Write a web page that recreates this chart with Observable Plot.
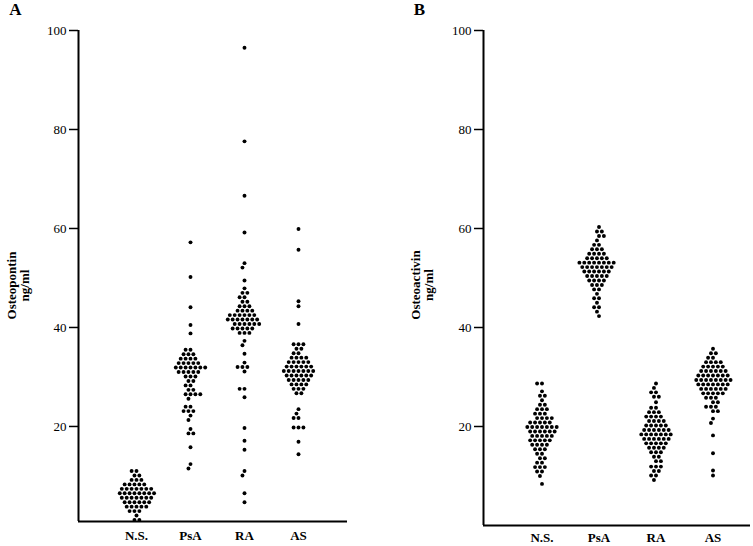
<!DOCTYPE html>
<html><head><meta charset="utf-8">
<script src="https://cdn.jsdelivr.net/npm/d3@7"></script>
<script src="https://cdn.jsdelivr.net/npm/@observablehq/plot@0.6"></script>
<style>
html,body{margin:0;padding:0;background:#fff;}
#chart{position:relative;width:753px;height:546px;overflow:hidden;background:#fff;}
#chart svg{position:absolute;left:0;top:0;}
#chart svg text{font-family:"Liberation Serif","Times New Roman",serif;}
#chart svg.dots text{font-weight:bold;}
#chart [aria-label="y-axis tick"]{stroke-width:1.5;}
</style></head><body><div id="chart"></div>
<script>
const groups = ["N.S.", "PsA", "RA", "AS"];
const yTicks = [20, 40, 60, 80, 100];
const panelTitles = ["A", "B"];
const yLabels = ["Osteopontin\nng/ml", "Osteoactivin\nng/ml"];

// Panel A: Osteopontin (ng/ml)
const osteopontinNS = [11.0, 11.0, 10.1, 10.1, 9.2, 9.2, 9.2, 8.3, 8.3, 8.3, 8.3, 8.3,
  7.4, 7.4, 7.4, 7.4, 7.4, 7.4, 7.4, 6.5, 6.5, 6.5, 6.5, 6.5, 6.5, 6.5, 6.5,
  5.6, 5.6, 5.6, 5.6, 5.6, 5.6, 5.6, 4.7, 4.7, 4.7, 4.7, 4.7, 4.7,
  3.8, 3.8, 3.8, 3.8, 3.8, 2.9, 2.9, 2.9, 2.0, 1.1, 1.1];
const osteopontinPsA = [57.2, 50.2, 44.1, 40.5, 38.8, 35.5, 35.5, 34.6, 34.6, 34.6,
  33.7, 33.7, 33.7, 33.7, 32.8, 32.8, 32.8, 32.8, 32.8,
  31.9, 31.9, 31.9, 31.9, 31.9, 31.9, 31.9, 31.0, 31.0, 31.0, 31.0, 31.0,
  30.1, 30.1, 30.1, 29.2, 29.2, 28.3, 28.3, 27.4, 27.4, 26.5, 26.5, 26.5, 26.5, 25.6,
  24.0, 24.0, 23.1, 23.1, 23.1, 22.2, 21.3, 19.5, 18.6, 18.6, 15.8, 12.4, 11.5];
const osteopontinRA = [96.5, 77.6, 66.6, 59.2, 53.0, 52.1, 49.5, 47.9, 47.0, 47.0,
  46.1, 46.1, 45.2, 45.2, 44.3, 44.3, 44.3, 43.4, 43.4, 43.4, 43.4,
  42.5, 42.5, 42.5, 42.5, 42.5, 42.5, 41.6, 41.6, 41.6, 41.6, 41.6, 41.6, 41.6,
  40.7, 40.7, 40.7, 40.7, 40.7, 40.7, 39.8, 39.8, 39.8, 39.8, 39.8, 38.9, 38.9, 38.9,
  37.3, 36.4, 34.7, 32.9, 32.0, 32.0, 32.0, 31.1, 27.6, 27.6, 25.9, 19.7, 17.1, 15.3,
  11.0, 10.1, 6.5, 4.7];
const osteopontinAS = [59.9, 55.7, 45.3, 44.3, 40.7, 36.6, 36.6, 36.6, 35.7, 35.7,
  34.8, 34.8, 33.9, 33.9, 33.9, 33.9, 33.0, 33.0, 33.0, 33.0, 33.0,
  32.1, 32.1, 32.1, 32.1, 32.1, 32.1, 31.2, 31.2, 31.2, 31.2, 31.2, 31.2, 31.2,
  30.3, 30.3, 30.3, 30.3, 30.3, 30.3, 29.4, 29.4, 29.4, 29.4, 29.4,
  28.5, 28.5, 28.5, 28.5, 27.6, 27.6, 27.6, 26.7, 26.7,
  23.5, 22.6, 21.7, 21.7, 19.8, 19.8, 19.8, 16.9, 14.4];

// Panel B: Osteoactivin (ng/ml)
const osteoactivinNS = [28.7, 28.7, 27.1, 26.2, 26.2, 25.3, 24.4, 24.4, 23.5, 23.5, 23.5,
  22.6, 22.6, 22.6, 21.7, 21.7, 21.7, 21.7, 20.8, 20.8, 20.8, 20.8, 20.8,
  19.9, 19.9, 19.9, 19.9, 19.9, 19.9, 19.9, 19.0, 19.0, 19.0, 19.0, 19.0, 19.0,
  18.1, 18.1, 18.1, 18.1, 18.1, 17.2, 17.2, 17.2, 17.2, 17.2, 16.3, 16.3, 16.3, 16.3,
  15.4, 15.4, 15.4, 14.5, 14.5, 13.6, 13.6, 12.7, 12.7, 11.8, 11.8, 11.8,
  10.9, 10.9, 10.0, 8.4];
const osteoactivinPsA = [60.3, 59.4, 59.4, 58.5, 58.5, 57.6, 56.7, 56.7, 55.8, 55.8, 55.8,
  54.9, 54.9, 54.9, 54.9, 54.0, 54.0, 54.0, 54.0, 54.0,
  53.1, 53.1, 53.1, 53.1, 53.1, 53.1, 53.1, 53.1, 52.2, 52.2, 52.2, 52.2, 52.2, 52.2, 52.2,
  51.3, 51.3, 51.3, 51.3, 51.3, 51.3, 50.4, 50.4, 50.4, 50.4, 50.4,
  49.5, 49.5, 49.5, 49.5, 48.6, 48.6, 48.6, 47.7, 47.7, 46.8, 45.9, 45.9, 45.0,
  44.1, 44.1, 43.2, 42.3];
const osteoactivinRA = [28.7, 27.8, 26.9, 26.9, 26.0, 26.0, 24.9, 23.8, 23.8,
  22.9, 22.9, 22.9, 22.0, 22.0, 22.0, 22.0, 21.1, 21.1, 21.1, 21.1,
  20.2, 20.2, 20.2, 20.2, 20.2, 19.3, 19.3, 19.3, 19.3, 19.3, 19.3,
  18.4, 18.4, 18.4, 18.4, 18.4, 18.4, 18.4, 17.5, 17.5, 17.5, 17.5, 17.5, 17.5,
  16.6, 16.6, 16.6, 16.6, 16.6, 15.7, 15.7, 15.7, 15.7, 14.8, 14.8, 14.8,
  13.9, 13.9, 13.0, 13.0, 11.9, 11.9, 11.9, 11.0, 11.0, 10.1, 10.1, 9.2];
const osteoactivinAS = [35.7, 34.8, 34.8, 33.9, 33.9, 33.0, 33.0, 33.0, 33.0,
  32.1, 32.1, 32.1, 32.1, 32.1, 31.2, 31.2, 31.2, 31.2, 31.2, 31.2,
  30.3, 30.3, 30.3, 30.3, 30.3, 30.3, 30.3, 29.4, 29.4, 29.4, 29.4, 29.4, 29.4, 29.4, 29.4,
  28.5, 28.5, 28.5, 28.5, 28.5, 28.5, 28.5, 27.6, 27.6, 27.6, 27.6, 27.6, 27.6,
  26.7, 26.7, 26.7, 26.7, 26.7, 25.8, 25.8, 25.8, 24.9, 24.9, 24.0, 24.0, 24.0,
  23.1, 23.1, 21.6, 20.7, 18.2, 14.6, 11.1, 10.1];

function table(lists) {
  return groups.flatMap((g, i) => lists[i].map(v => ({group: g, value: v})));
}
const dataA = table([osteopontinNS, osteopontinPsA, osteopontinRA, osteopontinAS]);
const dataB = table([osteoactivinNS, osteoactivinPsA, osteoactivinRA, osteoactivinAS]);

const baseStyle = {background: "transparent", fontFamily: "'Liberation Serif', 'Times New Roman', serif", fontSize: "13px", color: "#000", overflow: "visible"};

const panels = [
  {data: dataA, title: panelTitles[0], label: yLabels[0], yMin: 0.8, marginBottom: 25,
   axisLeft: 78, axisRight: 406, dotsLeft: 109, dotsRight: 428, titleDx: -63, labelDx: -60.5, labelDy: 9.5, fxPad: 9},
  {data: dataB, title: panelTitles[1], label: yLabels[1], yMin: 0, marginBottom: 21,
   axisLeft: 483, axisRight: 3, dotsLeft: 511, dotsRight: 11, titleDx: -64, labelDx: -61, labelDy: 7, fxPad: 7}
];

const chart = document.getElementById("chart");
for (const p of panels) {
  const axes = Plot.plot({
    width: 753, height: 546, marginTop: 30, marginBottom: p.marginBottom,
    marginLeft: p.axisLeft, marginRight: p.axisRight,
    style: baseStyle,
    x: {domain: [0, 1], axis: null},
    y: {domain: [p.yMin, 100], ticks: yTicks, tickSize: 9, tickPadding: 3, label: null},
    marks: [
      Plot.ruleX([0], {stroke: "#000", strokeWidth: 2}),
      Plot.ruleY([p.yMin], {stroke: "#000", strokeWidth: 2}),
      Plot.text([p.title], {frameAnchor: "top-left", textAnchor: "middle", lineAnchor: "middle",
        dx: p.titleDx, dy: -21, fontSize: 17, fontWeight: "bold", fill: "#000"}),
      Plot.text([p.label], {frameAnchor: "left", textAnchor: "middle", lineAnchor: "middle",
        rotate: -90, dx: p.labelDx, dy: p.labelDy, fontSize: 13, fontWeight: "bold", fill: "#000"})
    ]
  });
  chart.appendChild(axes);
  const dots = Plot.plot({
    width: 753, height: 546, marginTop: 30, marginBottom: p.marginBottom,
    marginLeft: p.dotsLeft, marginRight: p.dotsRight,
    style: baseStyle,
    fx: {domain: groups, padding: 0, axis: "bottom", tickSize: 0, tickPadding: p.fxPad, label: null},
    y: {domain: [p.yMin, 100], axis: null},
    marks: [
      Plot.dot(p.data, Plot.dodgeX("middle", {fx: "group", y: "value", r: 1.95, padding: 0.35, fill: "#000", stroke: "none"}))
    ]
  });
  dots.classList.add("dots");
  chart.appendChild(dots);
}
</script></body></html>
